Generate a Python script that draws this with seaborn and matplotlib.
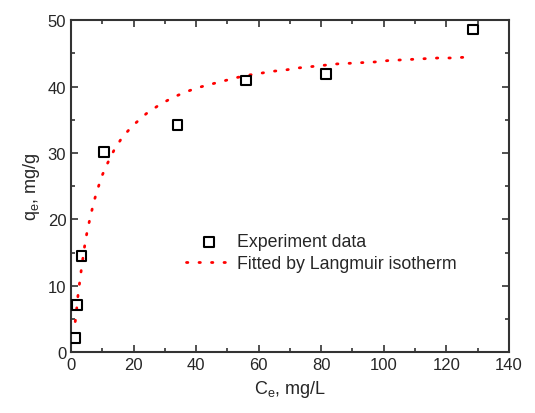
import pandas as pd
import seaborn as sns
import matplotlib.pyplot as plt

ce_exp = [1.3, 2.0, 3.3, 10.6, 34.0, 55.9, 81.5, 128.6]
qe_exp = [2.1, 7.1, 14.5, 30.2, 34.2, 40.9, 41.9, 48.6]

# Langmuir fitted curve
ce_fit = [1.3, 1.5, 2.3, 2.9, 3.4, 4.6, 5.4, 6.3, 7.3, 8.5, 9.9, 11.7, 13.7, 16.4,
          19.9, 24.0, 28.1, 32.3, 36.2, 40.3, 44.3, 48.5, 52.5, 56.5, 60.6, 64.6,
          68.7, 72.7, 76.9, 80.9, 85.0, 89.1, 93.2, 97.2, 101.3, 105.3, 109.4,
          113.4, 117.5, 121.5, 125.6]
qe_fit = [4.6, 5.2, 9.1, 11.1, 13.0, 16.9, 18.8, 20.7, 22.7, 24.6, 26.6, 28.5, 30.4, 32.4,
          34.2, 35.9, 37.2, 38.3, 39.1, 39.8, 40.3, 40.8, 41.3, 41.7, 42.0, 42.3,
          42.5, 42.8, 43.0, 43.2, 43.4, 43.5, 43.6, 43.7, 43.9, 44.0, 44.1,
          44.2, 44.3, 44.3, 44.4]

df_exp = pd.DataFrame({"Ce": ce_exp, "qe": qe_exp})
df_fit = pd.DataFrame({"Ce": ce_fit, "qe": qe_fit})

sns.set_style("ticks")
plt.rcParams["font.family"] = ["Liberation Sans", "DejaVu Sans"]
plt.rcParams["mathtext.fontset"] = "custom"
plt.rcParams["mathtext.rm"] = "Liberation Sans"

fig = plt.figure(figsize=(5.35, 4.14), dpi=100)
ax = fig.add_axes([0.133, 0.147, 0.818, 0.802])

sns.lineplot(data=df_fit, x="Ce", y="qe", ax=ax, color="red", linewidth=2,
             linestyle=(0, (0.5, 4.0)), dash_capstyle="round",
             label="Fitted by Langmuir isotherm", sort=False)
sns.scatterplot(data=df_exp, x="Ce", y="qe", ax=ax, marker="s", s=50,
                facecolor="none", edgecolor="black", linewidth=1.5,
                label="Experiment data", zorder=3)

ax.set_xlim(0, 140)
ax.set_ylim(0, 50)
ax.set_xticks(range(0, 141, 20))
ax.set_xticks(range(0, 141, 10), minor=True)
ax.set_yticks(range(0, 51, 10))
ax.set_yticks(range(0, 51, 5), minor=True)
ax.tick_params(which="both", direction="in", top=True, right=True,
               labelsize=12, width=1.2, color="#333333")
ax.tick_params(which="major", length=5)
ax.tick_params(which="minor", length=3)
for sp in ax.spines.values():
    sp.set_linewidth(1.5)
    sp.set_color("#333333")

ax.set_xlabel(r"C$_\mathregular{e}$, mg/L", fontsize=13)
ax.set_ylabel(r"q$_\mathregular{e}$, mg/g", fontsize=13)

handles, labels = ax.get_legend_handles_labels()
ax.legend(handles[::-1], labels[::-1], loc="center left",
          bbox_to_anchor=(0.225, 0.3), frameon=False, fontsize=12.8,
          handlelength=2.6, labelspacing=0.25, handletextpad=0.3)

fig.savefig("out.png", dpi=100)
